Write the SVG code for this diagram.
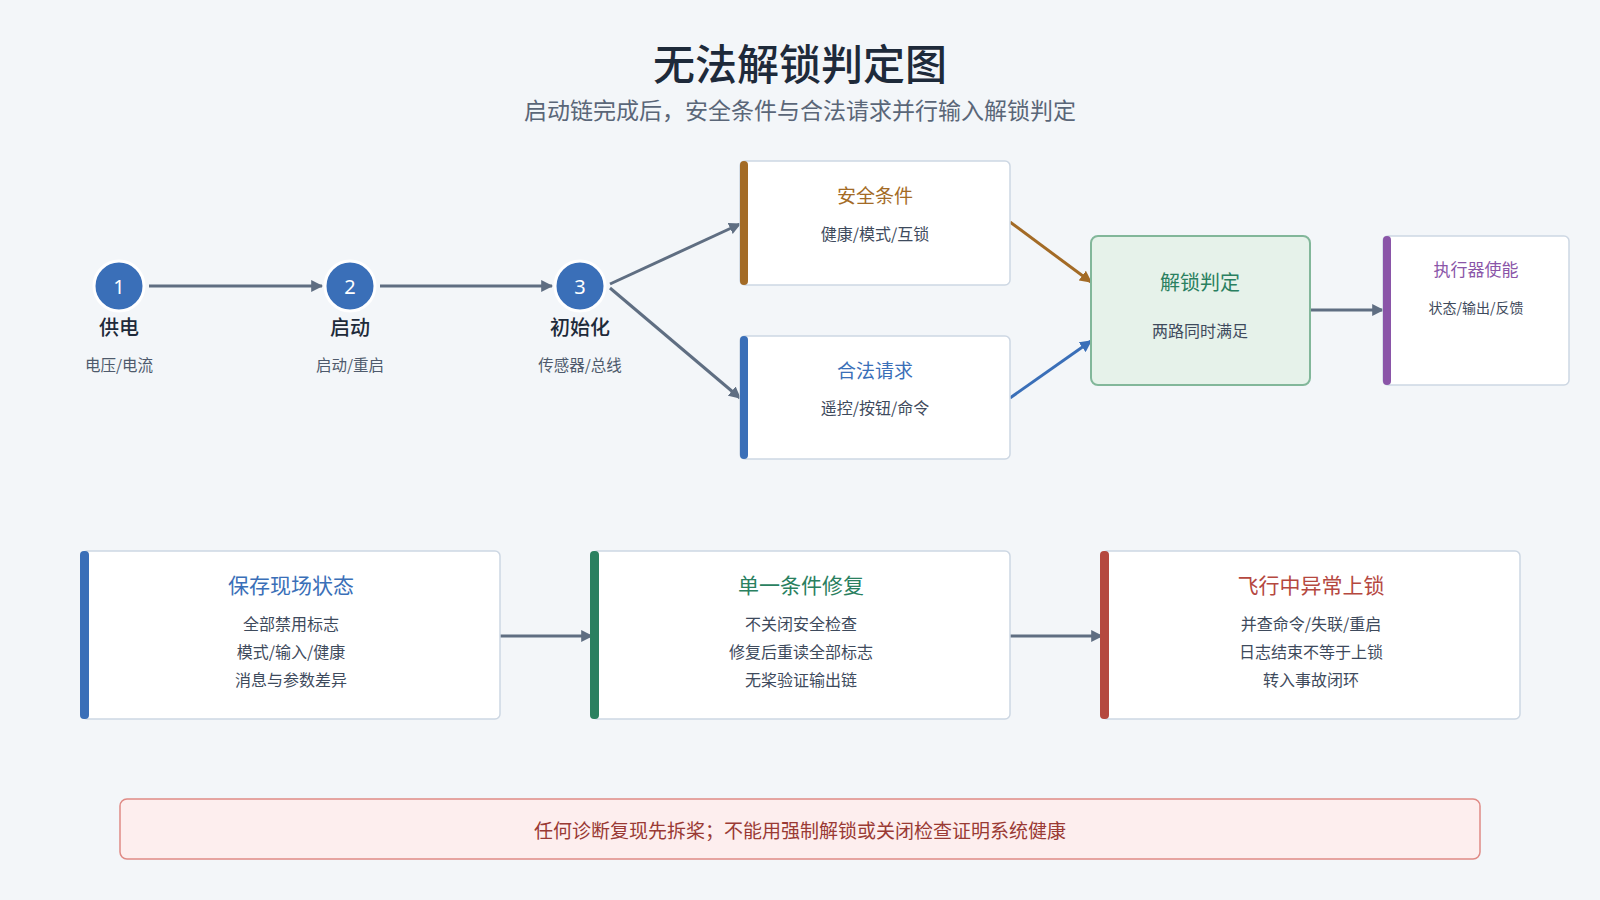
<svg xmlns="http://www.w3.org/2000/svg" width="1600" height="900" viewBox="0 0 1600 900">
<style>
text{font-family:"Noto Sans CJK SC","Noto Sans",sans-serif;text-anchor:middle;dominant-baseline:central}
.t{font-size:42px;fill:#1e2a3a;font-weight:500}
.st{font-size:23px;fill:#5a6678}
.ct{font-size:20px;fill:#fff;font-family:"Noto Sans",sans-serif}
.nl{font-size:20px;fill:#1e2a3a;font-weight:500}
.ns{font-size:15.5px;fill:#4e5a6c}
.box{fill:#fff;stroke:#cdd7e3;stroke-width:1.5}
.bt{font-size:19px}
.bs{font-size:16px;fill:#3e4a5c}
.c{stroke:#5f6e82;stroke-width:3;fill:none}
</style>
<defs>
<marker id="a" viewBox="0 0 10 10" refX="9" refY="5" markerWidth="4" markerHeight="4" orient="auto"><path d="M0,0L10,5L0,10z" fill="#5f6e82"/></marker>
<marker id="ab" viewBox="0 0 10 10" refX="9" refY="5" markerWidth="4" markerHeight="4" orient="auto"><path d="M0,0L10,5L0,10z" fill="#3a6fb8"/></marker>
<marker id="ao" viewBox="0 0 10 10" refX="9" refY="5" markerWidth="4" markerHeight="4" orient="auto"><path d="M0,0L10,5L0,10z" fill="#a36b26"/></marker>
</defs>
<rect width="1600" height="900" fill="#f3f6f9"/>
<text class="t" x="800" y="61">无法解锁判定图</text>
<text class="st" x="800" y="109">启动链完成后，安全条件与合法请求并行输入解锁判定</text>
<g id="connectors">
<line class="c" x1="149" y1="286" x2="322" y2="286" marker-end="url(#a)"/>
<line class="c" x1="380" y1="286" x2="552" y2="286" marker-end="url(#a)"/>
<line class="c" x1="610" y1="284" x2="740" y2="224" marker-end="url(#a)"/>
<line class="c" x1="610" y1="288" x2="740" y2="398" marker-end="url(#a)"/>
<line x1="1010" y1="222" x2="1091" y2="282" stroke="#a36b26" stroke-width="3" marker-end="url(#ao)"/>
<line x1="1010" y1="398" x2="1091" y2="341" stroke="#3a6fb8" stroke-width="3" marker-end="url(#ab)"/>
<line class="c" x1="1310" y1="310" x2="1383" y2="310" marker-end="url(#a)"/>
<line class="c" x1="500" y1="636" x2="592" y2="636" marker-end="url(#a)"/>
<line class="c" x1="1010" y1="636" x2="1102" y2="636" marker-end="url(#a)"/>
</g>
<g id="n1"><circle cx="119" cy="286" r="25" fill="#3a6fb8" stroke="#fff" stroke-width="3"/><text class="ct" x="119" y="286">1</text><text class="nl" x="119" y="326">供电</text><text class="ns" x="119" y="364">电压/电流</text></g>
<g id="n2"><circle cx="350" cy="286" r="25" fill="#3a6fb8" stroke="#fff" stroke-width="3"/><text class="ct" x="350" y="286">2</text><text class="nl" x="350" y="326">启动</text><text class="ns" x="350" y="364">启动/重启</text></g>
<g id="n3"><circle cx="580" cy="286" r="25" fill="#3a6fb8" stroke="#fff" stroke-width="3"/><text class="ct" x="580" y="286">3</text><text class="nl" x="580" y="326">初始化</text><text class="ns" x="580" y="364">传感器/总线</text></g>
<g id="safety"><rect class="box" x="740" y="161" width="270" height="124" rx="5"/><rect x="740" y="161" width="8" height="124" rx="4" fill="#a36b26"/><text class="bt" x="875" y="194" fill="#a36b26">安全条件</text><text class="bs" x="875" y="233">健康/模式/互锁</text></g>
<g id="request"><rect class="box" x="740" y="336" width="270" height="123" rx="5"/><rect x="740" y="336" width="8" height="123" rx="4" fill="#3a6fb8"/><text class="bt" x="875" y="369" fill="#3a6fb8">合法请求</text><text class="bs" x="875" y="407">遥控/按钮/命令</text></g>
<g id="decision"><rect x="1091" y="236" width="219" height="149" rx="7" fill="#e6f2ea" stroke="#82b79a" stroke-width="2"/><text class="bt" x="1200" y="281" fill="#2a8060" style="font-size:20px">解锁判定</text><text class="bs" x="1200" y="330">两路同时满足</text></g>
<g id="actuator"><rect class="box" x="1383" y="236" width="186" height="149" rx="5"/><rect x="1383" y="236" width="8" height="149" rx="4" fill="#8a55a8"/><text class="bt" x="1476" y="268" fill="#8a55a8" style="font-size:17px">执行器使能</text><text class="bs" x="1476" y="307" style="font-size:14px">状态/输出/反馈</text></g>
<g id="b1"><rect class="box" x="82" y="551" width="418" height="168" rx="5"/><rect x="80" y="551" width="9" height="168" rx="4" fill="#3a6fb8"/><text class="bt" x="291" y="584" fill="#3a6fb8" style="font-size:21px">保存现场状态</text><text class="bs" x="291" y="623">全部禁用标志</text><text class="bs" x="291" y="651">模式/输入/健康</text><text class="bs" x="291" y="679">消息与参数差异</text></g>
<g id="b2"><rect class="box" x="592" y="551" width="418" height="168" rx="5"/><rect x="590" y="551" width="9" height="168" rx="4" fill="#2a8060"/><text class="bt" x="801" y="584" fill="#2a8060" style="font-size:21px">单一条件修复</text><text class="bs" x="801" y="623">不关闭安全检查</text><text class="bs" x="801" y="651">修复后重读全部标志</text><text class="bs" x="801" y="679">无桨验证输出链</text></g>
<g id="b3"><rect class="box" x="1102" y="551" width="418" height="168" rx="5"/><rect x="1100" y="551" width="9" height="168" rx="4" fill="#b5483f"/><text class="bt" x="1311" y="584" fill="#b5483f" style="font-size:21px">飞行中异常上锁</text><text class="bs" x="1311" y="623">并查命令/失联/重启</text><text class="bs" x="1311" y="651">日志结束不等于上锁</text><text class="bs" x="1311" y="679">转入事故闭环</text></g>
<g id="footer"><rect x="120" y="799" width="1360" height="60" rx="7" fill="#fdeeee" stroke="#e08a85" stroke-width="1.5"/><text x="800" y="829" style="font-size:19px;fill:#9a3a34">任何诊断复现先拆桨；不能用强制解锁或关闭检查证明系统健康</text></g>
</svg>
